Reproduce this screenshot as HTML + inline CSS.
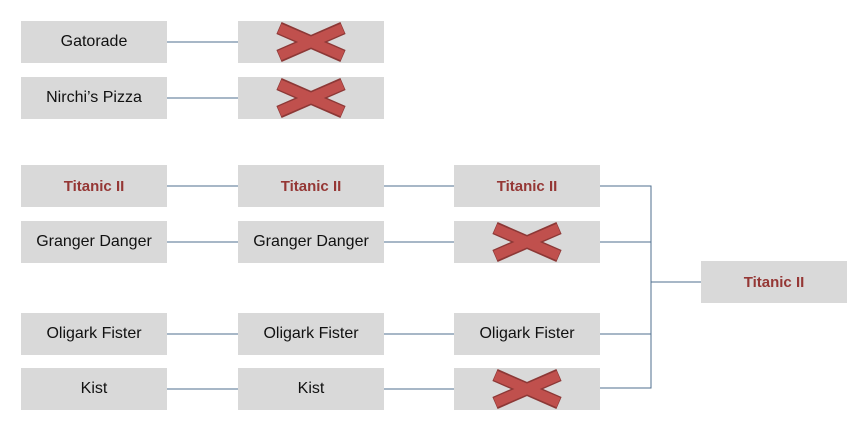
<!DOCTYPE html>
<html><head><style>
body{margin:0;width:860px;height:434px;background:#fff;position:relative;overflow:hidden;font-family:"Liberation Sans",sans-serif}
.b{position:absolute;width:146px;height:42px;background:#d9d9d9;display:flex;align-items:center;justify-content:center;font-size:16px;color:#111}
.r{color:#953735;font-weight:bold;font-size:15px}
svg{position:absolute;left:0;top:0}
</style></head><body>
<svg width="860" height="434">
<g stroke="#4f6f8f" stroke-width="1" fill="none">
<line x1="167" y1="42" x2="238" y2="42"/>
<line x1="167" y1="98" x2="238" y2="98"/>
<line x1="167" y1="186" x2="238" y2="186"/>
<line x1="384" y1="186" x2="454" y2="186"/>
<line x1="167" y1="242" x2="238" y2="242"/>
<line x1="384" y1="242" x2="454" y2="242"/>
<line x1="167" y1="334" x2="238" y2="334"/>
<line x1="384" y1="334" x2="454" y2="334"/>
<line x1="167" y1="389" x2="238" y2="389"/>
<line x1="384" y1="389" x2="454" y2="389"/>
<polyline points="600,186 651,186 651,388 600,388"/>
<line x1="600" y1="242" x2="651" y2="242"/>
<line x1="600" y1="334" x2="651" y2="334"/>
<line x1="651" y1="282" x2="701" y2="282"/>
</g>
</svg>
<div class="b" style="left:21px;top:21px">Gatorade</div>
<div class="b" style="left:21px;top:77px">Nirchi’s Pizza</div>
<div class="b r" style="left:21px;top:165px">Titanic II</div>
<div class="b" style="left:21px;top:221px">Granger Danger</div>
<div class="b" style="left:21px;top:313px">Oligark Fister</div>
<div class="b" style="left:21px;top:368px">Kist</div>
<div class="b" style="left:238px;top:21px"></div>
<div class="b" style="left:238px;top:77px"></div>
<div class="b r" style="left:238px;top:165px">Titanic II</div>
<div class="b" style="left:238px;top:221px">Granger Danger</div>
<div class="b" style="left:238px;top:313px">Oligark Fister</div>
<div class="b" style="left:238px;top:368px">Kist</div>
<div class="b r" style="left:454px;top:165px">Titanic II</div>
<div class="b" style="left:454px;top:221px"></div>
<div class="b" style="left:454px;top:313px">Oligark Fister</div>
<div class="b" style="left:454px;top:368px"></div>
<div class="b r" style="left:701px;top:261px">Titanic II</div>
<svg width="860" height="434">
<defs><g id="x">
<line x1="-32" y1="-14" x2="32" y2="14" stroke="#8c3836" stroke-width="13"/>
<line x1="-32" y1="14" x2="32" y2="-14" stroke="#8c3836" stroke-width="13"/>
<line x1="-31.5" y1="-13.5" x2="31.5" y2="13.5" stroke="#c0504d" stroke-width="10"/>
<line x1="-31.5" y1="13.5" x2="31.5" y2="-13.5" stroke="#c0504d" stroke-width="10"/>
</g></defs>
<use href="#x" x="311" y="42"/>
<use href="#x" x="311" y="98"/>
<use href="#x" x="527" y="242"/>
<use href="#x" x="527" y="389"/>
</svg>
</body></html>
